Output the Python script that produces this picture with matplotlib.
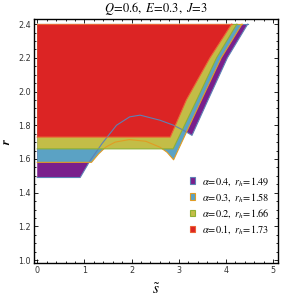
import numpy as np
import matplotlib
matplotlib.use("Agg")
import matplotlib.pyplot as plt
from matplotlib.patches import Patch
from matplotlib.ticker import MultipleLocator

plt.rcParams['mathtext.fontset'] = 'stix'

# region data (s-tilde, r)
alphas = [0.4, 0.3, 0.2, 0.1]
r_h = [1.49, 1.58, 1.66, 1.73]
r_top = 2.4

# lower/right boundary of each region, after the flat part at r = r_h
bound_s = [
    [0.91, 1.12, 1.37, 1.68, 1.96, 2.18, 2.60, 2.89, 3.10, 3.28, 3.62, 4.03, 4.46],
    [1.15, 1.30, 1.45, 1.65, 1.95, 2.30, 2.60, 2.75, 2.89, 3.48, 3.90, 4.34],
    [2.88, 3.38, 3.80, 4.23],
    [2.82, 3.16, 3.66, 4.12],
]
bound_r = [
    [1.49, 1.59, 1.69, 1.80, 1.85, 1.86, 1.83, 1.80, 1.77, 1.74, 1.95, 2.20, 2.40],
    [1.58, 1.63, 1.67, 1.70, 1.715, 1.705, 1.67, 1.64, 1.595, 1.95, 2.20, 2.40],
    [1.66, 1.95, 2.20, 2.40],
    [1.73, 1.95, 2.20, 2.40],
]

fills = ['#7a1f8c', '#5ba2c4', '#c3bd47', '#dc2424']
edges = ['#5e81b5', '#e19c24', '#8fb032', '#eb6235']

fig = plt.figure(figsize=(2.95, 2.98), dpi=100)
ax = fig.add_axes([0.115, 0.117, 0.827, 0.819])

for i in range(len(alphas)):
    xs = [0, 0] + bound_s[i]
    ys = [r_top, r_h[i]] + bound_r[i]
    ax.fill(xs, ys, color=fills[i], lw=0, zorder=1 + i)
    # top edge sits under the next fill, lower/right edge goes on top
    ax.plot([0, bound_s[i][-1]], [r_top, r_top], color=edges[i], lw=0.8, zorder=1 + i)
    ax.plot([0] + bound_s[i], [r_h[i]] + bound_r[i], color=edges[i], lw=0.8,
            zorder=6, solid_joinstyle='round')

ax.set_xlim(-0.07, 5.10)
ax.set_ylim(0.982, 2.43)
ax.xaxis.set_major_locator(MultipleLocator(1))
ax.xaxis.set_minor_locator(MultipleLocator(0.2))
ax.yaxis.set_major_locator(MultipleLocator(0.2))
ax.yaxis.set_minor_locator(MultipleLocator(0.05))
ax.tick_params(which='both', direction='in', top=True, right=True,
               labelsize=5.8, labelcolor='#333333', width=0.6, pad=2)
ax.tick_params(which='major', length=3)
ax.tick_params(which='minor', length=1.5)
for sp in ax.spines.values():
    sp.set_linewidth(1.0)
ax.set_yticks([1.0, 1.2, 1.4, 1.6, 1.8, 2.0, 2.2, 2.4])
ax.set_yticklabels(['1.0', '1.2', '1.4', '1.6', '1.8', '2.0', '2.2', '2.4'])

ax.set_title(r'$\mathit{Q\!=\!0.6,\ E\!=\!0.3,\ J\!=\!3}$', fontsize=9, pad=5)
ax.set_xlabel(r'$\boldsymbol{\tilde{s}}$', fontsize=11, labelpad=5)
ax.set_ylabel(r'$\boldsymbol{r}$', fontsize=9, labelpad=4)

handles = [Patch(facecolor=fills[i], edgecolor=edges[i], lw=0.8,
                 label=r'$\mathit{\alpha\!=\!%s,\ r_h\!=\!%s}$' % (alphas[i], r_h[i]))
           for i in range(len(alphas))]
ax.legend(handles=handles, loc='lower right', bbox_to_anchor=(0.985, 0.095),
          frameon=False, fontsize=7.4, handlelength=0.55, handleheight=0.55,
          handletextpad=0.7, labelspacing=0.3, borderaxespad=0)

fig.savefig('out.png', dpi=100)
